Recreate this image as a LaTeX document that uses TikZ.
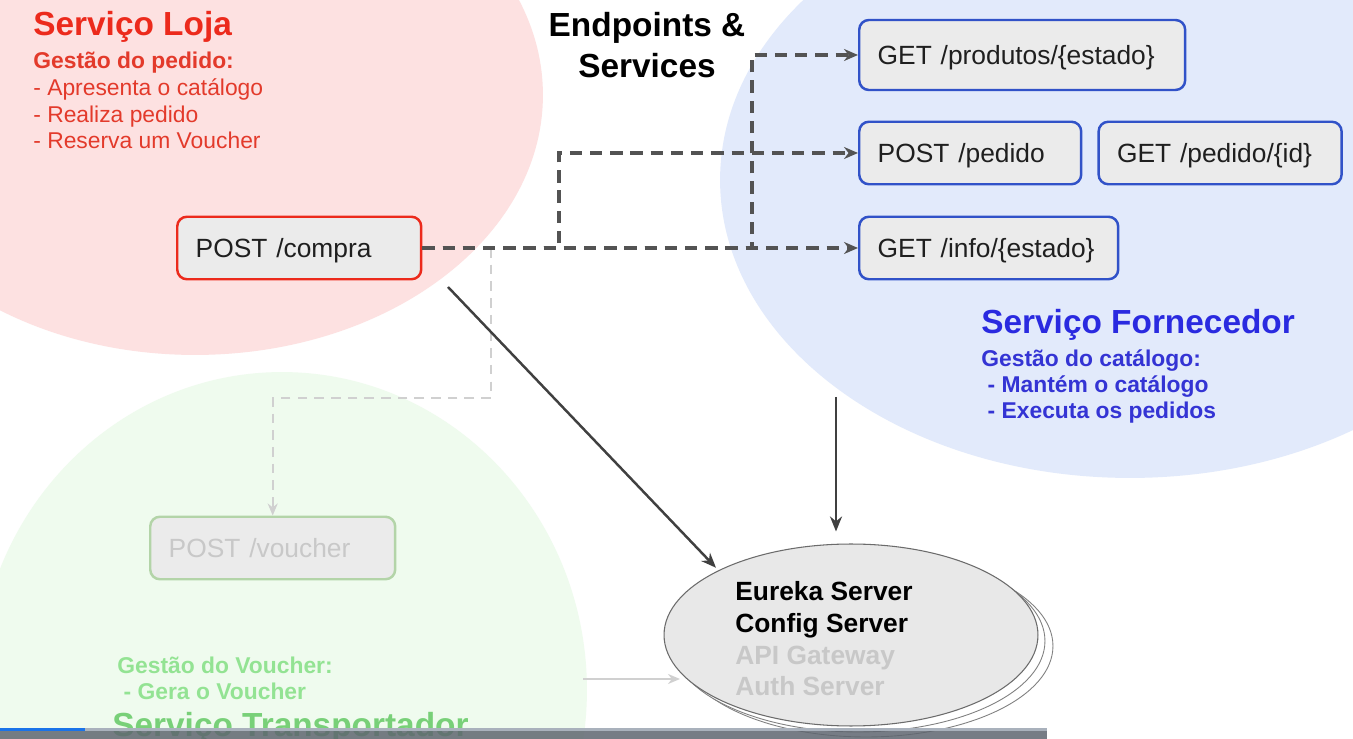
\documentclass[tikz,border=0pt]{standalone}
\usepackage{fontspec}
\setmainfont{Liberation Sans}
\usetikzlibrary{positioning,shapes.geometric,arrows.meta}
\definecolor{lojafill}{HTML}{FDE1E1}
\definecolor{lojared}{HTML}{EC2A1C}
\definecolor{lojatext}{HTML}{E33A2B}
\definecolor{fornfill}{HTML}{E2EAFB}
\definecolor{fornblue}{HTML}{2A2AE0}
\definecolor{forntext}{HTML}{3434D4}
\definecolor{fornline}{HTML}{3152C8}
\definecolor{transpfill}{HTML}{EFFBEE}
\definecolor{transpgreen}{HTML}{93E393}
\definecolor{transpdark}{HTML}{78D078}
\definecolor{transpline}{HTML}{B3D4A8}
\definecolor{boxgray}{HTML}{EBEBEB}
\definecolor{dashgray}{HTML}{535353}
\definecolor{ghost}{HTML}{D0D0D0}
\definecolor{ghosttext}{HTML}{C8C8C8}
\definecolor{srvgray}{HTML}{E8E8E8}
\definecolor{barbase}{HTML}{5F6670}
\definecolor{bartop}{HTML}{A9B1BC}
\definecolor{barblue}{HTML}{1A73E8}

\begin{document}
\begin{tikzpicture}[x=0.02cm,y=-0.02cm,
  ep/.style={draw=fornline,line width=1.4pt,fill=boxgray,rounded corners=5.5pt,
    inner xsep=0.37cm,inner ysep=0pt,minimum height=1.25cm,align=left,
    text height=10.7pt,text depth=0pt,
    font=\fontsize{15}{18}\selectfont,text=black!88},
  txt/.style={anchor=base west,inner sep=0,align=left},
  dasharrow/.style={dashgray,line width=1.8pt,dash pattern=on 7pt off 4.5pt,
    -{Stealth[length=0.28cm,width=0.24cm]}},
  ghostarrow/.style={ghost,line width=1.3pt,dash pattern=on 5.5pt off 4pt,
    -{Stealth[length=0.24cm,width=0.2cm]}},
  solidarrow/.style={black!75,line width=1.4pt,-{Stealth[length=0.3cm,width=0.24cm]}}]

\useasboundingbox (0,0) rectangle (1353,739);
\clip (0,0) rectangle (1353,739);
\fill[white] (0,0) rectangle (1353,739);

\fill[lojafill] (195,95) ellipse [x radius=6.96cm, y radius=5.2cm];
\fill[fornfill] (1130,180) ellipse [x radius=8.2cm, y radius=5.96cm];
\fill[transpfill] (282,690) ellipse [x radius=6.1cm, y radius=6.36cm];

\node[txt,text=lojared,font=\bfseries\fontsize{19}{23}\selectfont] (lojatit) at (33,36) {Serviço Loja};
\node[txt,text=lojatext,font=\fontsize{13}{15.3}\selectfont] (lojadesc) at (33,149)
  {\textbf{Gestão do pedido:}\\- Apresenta o catálogo\\- Realiza pedido\\- Reserva um Voucher};

\node[anchor=base,inner sep=0,align=center,font=\bfseries\fontsize{19}{23.8}\selectfont] (eptit) at (647,78) {Endpoints \&\\Services};

\node[txt,text=fornblue,font=\bfseries\fontsize{19}{23}\selectfont] (forntit) at (981,334) {Serviço Fornecedor};
\node[txt,text=forntext,font=\bfseries\fontsize{13}{15}\selectfont] (forndesc) at (981,419)
  {Gestão do catálogo:\\~- Mantém o catálogo\\~- Executa os pedidos};

\node[txt,text=transpgreen,font=\bfseries\fontsize{13}{15.3}\selectfont] (transpdesc) at (117,700)
  {Gestão do Voucher:\\~- Gera o Voucher};
\node[txt,text=transpdark,font=\bfseries\fontsize{19}{23}\selectfont] (transptit) at (112,737) {Serviço Transportador};

\node[ep,anchor=west,draw=lojared,text width=4.14cm] (compra) at (176,248) {POST /compra};
\node[ep,anchor=west,text width=5.78cm,minimum height=1.4cm] (produtos) at (858,55) {GET /produtos/\{estado\}};
\node[ep,anchor=west,text width=3.7cm] (ppedido) at (858,153) {POST /pedido};
\node[ep,right=0.3cm of ppedido,text width=4.12cm] (gpedido) {GET /pedido/\{id\}};
\node[ep,anchor=west,text width=4.44cm] (info) at (858,248) {GET /info/\{estado\}};
\node[ep,anchor=west,draw=transpline,text=ghosttext,text width=4.16cm] (voucher) at (149,548) {POST /voucher};

\draw[black!50,line width=0.5pt,fill=white] (866,646) ellipse [x radius=3.74cm, y radius=1.82cm];
\draw[black!50,line width=0.5pt,fill=white] (858,641) ellipse [x radius=3.74cm, y radius=1.82cm];
\node[ellipse,draw=black!58,line width=0.6pt,fill=srvgray,inner sep=0,
  minimum width=7.48cm,minimum height=3.64cm] (srv) at (851,635) {};
\node[txt,font=\bfseries\fontsize{15}{18.1}\selectfont] (srvtxt) at (735,696)
  {Eureka Server\\Config Server\\\textcolor{ghosttext}{API Gateway}\\\textcolor{ghosttext}{Auth Server}};

\coordinate (fork1) at (559,248);
\coordinate (fork2) at (752,248);
\coordinate (fork3) at (491,248);
\coordinate (lojaout) at (448,287);
\coordinate (fornout) at (836,397);
\coordinate (transpout) at (583,679);
\coordinate (transpin) at (680,679);

\draw[ghostarrow] (fork3) -- ++(0,150) -| (voucher.north);
\draw[dasharrow] (compra.east) -- (info.west);
\draw[dasharrow] (compra.east) -- (fork1) |- (ppedido.west);
\draw[dasharrow] (compra.east) -- (fork2) |- (produtos.west);

\draw[solidarrow,shorten >=2pt] (lojaout) -- (srv.north west);
\draw[solidarrow,shorten >=0.24cm] (fornout) -- (fornout |- srv.north);
\draw[ghostarrow,dash pattern={}] (transpout) -- (transpin);

\fill[barbase,opacity=0.85] (0,731) rectangle (1047,739);
\fill[bartop] (0,728) rectangle (1047,731);
\fill[barblue] (0,728) rectangle (85,731);
\end{tikzpicture}
\end{document}
